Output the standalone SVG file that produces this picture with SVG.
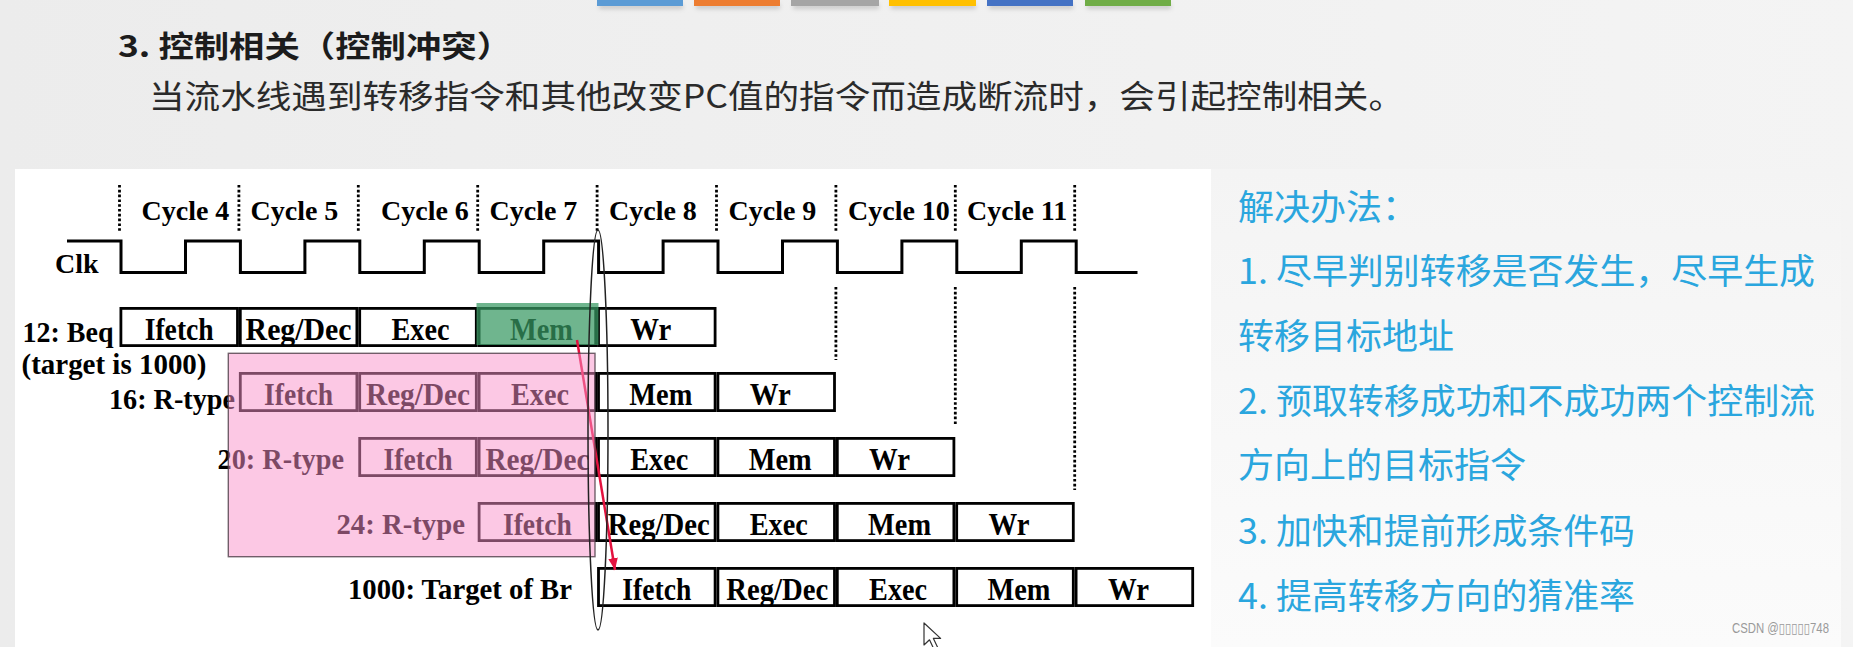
<svg xmlns="http://www.w3.org/2000/svg" width="1853" height="647" viewBox="0 0 1853 647">
<defs>
<linearGradient id="bg" x1="0" y1="0" x2="1" y2="0"><stop offset="0" stop-color="#ececec"/><stop offset="1" stop-color="#f4f4f4"/></linearGradient>
<linearGradient id="rp" x1="0" y1="0" x2="0" y2="1"><stop offset="0" stop-color="#f4f4f4"/><stop offset="1" stop-color="#fbfbfb"/></linearGradient>
<marker id="ah" markerWidth="12" markerHeight="12" refX="10" refY="5" orient="auto" markerUnits="userSpaceOnUse" viewBox="0 0 10 10"><path d="M0,1 L10,5 L0,9 Z" fill="#e3123f"/></marker>
<filter id="blur" x="-10%" y="-100%" width="120%" height="300%"><feGaussianBlur stdDeviation="2"/></filter>
<style>
.t{font-family:"Liberation Serif","Times New Roman",serif;font-weight:bold;font-size:28px;fill:#000}
.b{font-size:31px}
.l{font-size:30px}
.m{text-anchor:middle}
.e{text-anchor:end}
.box{fill:#fff;stroke:#000;stroke-width:2.8}
.dot{stroke:#000;stroke-width:2.8;stroke-dasharray:2.6 2.2;fill:none}
.cn{font-family:"Noto Sans CJK SC","Noto Sans",sans-serif}
.rt{font-size:35px;fill:#2aa6de}
</style>
</defs>

<!-- backgrounds -->
<rect x="0" y="0" width="1853" height="647" fill="url(#bg)"/>
<rect x="15" y="169" width="1196" height="478" fill="#ffffff"/>
<rect x="1211" y="169" width="630" height="478" fill="url(#rp)"/>

<!-- top colour bars -->
<g id="topbars">
<g fill="#9a9a9a" opacity="0.45" filter="url(#blur)">
<rect x="599" y="4" width="84" height="5"/><rect x="696" y="4" width="84" height="5"/><rect x="793" y="4" width="86" height="5"/>
<rect x="891" y="4" width="85" height="5"/><rect x="989" y="4" width="84" height="5"/><rect x="1087" y="4" width="84" height="5"/>
</g>
<rect x="597" y="0" width="86" height="6" fill="#5b9bd5"/>
<rect x="694" y="0" width="86" height="6" fill="#ed7d31"/>
<rect x="791" y="0" width="88" height="6" fill="#a5a5a5"/>
<rect x="889" y="0" width="87" height="6" fill="#ffc000"/>
<rect x="987" y="0" width="86" height="6" fill="#4472c4"/>
<rect x="1085" y="0" width="86" height="6" fill="#70ad47"/>
</g>

<g id="title">
<text class="cn" x="118" y="56.5" font-size="30" font-weight="bold" fill="#1c1c1c" textLength="394" lengthAdjust="spacingAndGlyphs">3. 控制相关（控制冲突）</text>
</g>
<g id="subtitle">
<text class="cn" x="149" y="108" font-size="32" fill="#2a2a2a" textLength="1255" lengthAdjust="spacingAndGlyphs">当流水线遇到转移指令和其他改变PC值的指令而造成断流时，会引起控制相关。</text>
</g>

<!-- clock -->
<g id="clock">
<text class="t" x="55" y="273">Clk</text>
<path d="M67,241 H121 V272.5 H185.5 V241 H240.4 V272.5 H304.9 V241 H359.8 V272.5 H424.3 V241 H479.2 V272.5 H543.7 V241 H598.6 V272.5 H663.1 V241 H718 V272.5 H782.5 V241 H837.4 V272.5 H901.9 V241 H956.8 V272.5 H1021.3 V241 H1076.2 V272.5 H1137.5" fill="none" stroke="#000" stroke-width="3"/>
</g>

<g id="cycles">
<path class="dot" d="M119.5,185 V232 M238.9,185 V232 M358.3,185 V232 M477.7,185 V232 M597.1,185 V232 M716.5,185 V232 M835.9,185 V232 M955.3,185 V232 M1074.7,185 V232"/>
<path class="dot" d="M835.9,287 V360 M955.3,287 V425 M1074.7,287 V490"/>
<text class="t" x="141.5" y="219.5">Cycle 4</text>
<text class="t" x="250.5" y="219.5">Cycle 5</text>
<text class="t" x="381" y="219.5">Cycle 6</text>
<text class="t" x="489.5" y="219.5">Cycle 7</text>
<text class="t" x="609" y="219.5">Cycle 8</text>
<text class="t" x="728.5" y="219.5">Cycle 9</text>
<text class="t" x="848" y="219.5">Cycle 10</text>
<text class="t" x="967" y="219.5">Cycle 11</text>
</g>

<!-- row 1 -->
<g id="row-12-beq">
<text class="t l e" x="113.5" y="342" textLength="91" lengthAdjust="spacingAndGlyphs">12: Beq</text>
<text class="t l" x="21.5" y="374" textLength="185" lengthAdjust="spacingAndGlyphs">(target is 1000)</text>
<rect class="box" x="120.9" y="308.4" width="116.6" height="37.2"/>
<rect class="box" x="240.3" y="308.4" width="116.6" height="37.2"/>
<rect class="box" x="359.7" y="308.4" width="116.6" height="37.2"/>
<rect class="box" x="479.1" y="308.4" width="116.6" height="37.2"/>
<rect class="box" x="598.5" y="308.4" width="116.6" height="37.2"/>
<text class="t b m" x="179.2" y="340" textLength="69" lengthAdjust="spacingAndGlyphs">Ifetch</text>
<text class="t b m" x="298.6" y="340" textLength="106" lengthAdjust="spacingAndGlyphs">Reg/Dec</text>
<text class="t b m" x="420.5" y="340" textLength="58" lengthAdjust="spacingAndGlyphs">Exec</text>
<text class="t b m" x="541.4" y="340" textLength="63" lengthAdjust="spacingAndGlyphs">Mem</text>
<text class="t b m" x="650.8" y="340" textLength="41" lengthAdjust="spacingAndGlyphs">Wr</text>
</g>

<!-- row 2 -->
<g id="row-16-rtype">
<text class="t l e" x="235" y="409" textLength="126" lengthAdjust="spacingAndGlyphs">16: R-type</text>
<rect class="box" x="240.3" y="373.4" width="116.6" height="37.2"/>
<rect class="box" x="359.7" y="373.4" width="116.6" height="37.2"/>
<rect class="box" x="479.1" y="373.4" width="116.6" height="37.2"/>
<rect class="box" x="598.5" y="373.4" width="116.6" height="37.2"/>
<rect class="box" x="717.9" y="373.4" width="116.6" height="37.2"/>
<text class="t b m" x="298.6" y="405" textLength="69" lengthAdjust="spacingAndGlyphs">Ifetch</text>
<text class="t b m" x="418" y="405" textLength="104" lengthAdjust="spacingAndGlyphs">Reg/Dec</text>
<text class="t b m" x="540" y="405" textLength="58" lengthAdjust="spacingAndGlyphs">Exec</text>
<text class="t b m" x="660.8" y="405" textLength="63" lengthAdjust="spacingAndGlyphs">Mem</text>
<text class="t b m" x="770.2" y="405" textLength="41" lengthAdjust="spacingAndGlyphs">Wr</text>
</g>

<!-- row 3 -->
<g id="row-20-rtype">
<text class="t l e" x="344" y="469" textLength="126.5" lengthAdjust="spacingAndGlyphs">20: R-type</text>
<rect class="box" x="359.7" y="438.4" width="116.6" height="37.2"/>
<rect class="box" x="479.1" y="438.4" width="116.6" height="37.2"/>
<rect class="box" x="598.5" y="438.4" width="116.6" height="37.2"/>
<rect class="box" x="717.9" y="438.4" width="116.6" height="37.2"/>
<rect class="box" x="837.3" y="438.4" width="116.6" height="37.2"/>
<text class="t b m" x="418" y="469.5" textLength="69" lengthAdjust="spacingAndGlyphs">Ifetch</text>
<text class="t b m" x="537.4" y="469.5" textLength="104" lengthAdjust="spacingAndGlyphs">Reg/Dec</text>
<text class="t b m" x="659.3" y="469.5" textLength="58" lengthAdjust="spacingAndGlyphs">Exec</text>
<text class="t b m" x="780.2" y="469.5" textLength="63" lengthAdjust="spacingAndGlyphs">Mem</text>
<text class="t b m" x="889.6" y="469.5" textLength="41" lengthAdjust="spacingAndGlyphs">Wr</text>
</g>

<!-- row 4 -->
<g id="row-24-rtype">
<text class="t l e" x="465" y="534" textLength="128.6" lengthAdjust="spacingAndGlyphs">24: R-type</text>
<rect class="box" x="479.1" y="503.4" width="116.6" height="37.2"/>
<rect class="box" x="598.5" y="503.4" width="116.6" height="37.2"/>
<rect class="box" x="717.9" y="503.4" width="116.6" height="37.2"/>
<rect class="box" x="837.3" y="503.4" width="116.6" height="37.2"/>
<rect class="box" x="956.7" y="503.4" width="116.6" height="37.2"/>
<text class="t b m" x="537.4" y="534.5" textLength="69" lengthAdjust="spacingAndGlyphs">Ifetch</text>
<text class="t b m" x="658.8" y="534.5" textLength="102" lengthAdjust="spacingAndGlyphs">Reg/Dec</text>
<text class="t b m" x="778.7" y="534.5" textLength="58" lengthAdjust="spacingAndGlyphs">Exec</text>
<text class="t b m" x="899.6" y="534.5" textLength="63" lengthAdjust="spacingAndGlyphs">Mem</text>
<text class="t b m" x="1009" y="534.5" textLength="41" lengthAdjust="spacingAndGlyphs">Wr</text>
</g>

<!-- row 5 -->
<g id="row-1000-target">
<text class="t l e" x="572" y="598.5" textLength="224" lengthAdjust="spacingAndGlyphs">1000: Target of Br</text>
<rect class="box" x="598.5" y="568.4" width="116.6" height="37.2"/>
<rect class="box" x="717.9" y="568.4" width="116.6" height="37.2"/>
<rect class="box" x="837.3" y="568.4" width="116.6" height="37.2"/>
<rect class="box" x="956.7" y="568.4" width="116.6" height="37.2"/>
<rect class="box" x="1076.1" y="568.4" width="116.6" height="37.2"/>
<text class="t b m" x="656.8" y="599.5" textLength="69" lengthAdjust="spacingAndGlyphs">Ifetch</text>
<text class="t b m" x="777.2" y="599.5" textLength="102" lengthAdjust="spacingAndGlyphs">Reg/Dec</text>
<text class="t b m" x="898.1" y="599.5" textLength="58" lengthAdjust="spacingAndGlyphs">Exec</text>
<text class="t b m" x="1019" y="599.5" textLength="63" lengthAdjust="spacingAndGlyphs">Mem</text>
<text class="t b m" x="1128.4" y="599.5" textLength="41" lengthAdjust="spacingAndGlyphs">Wr</text>
</g>

<!-- highlight of the branch Mem stage -->
<g id="mem-highlight">
<rect x="476.5" y="303" width="122" height="42" fill="rgb(55,152,99)" fill-opacity="0.72"/>
</g>

<!-- connectors -->
<g id="connectors">
<line x1="577" y1="340" x2="615" y2="570" stroke="#e3123f" stroke-width="2.5" marker-end="url(#ah)"/>
</g>

<!-- flushed instructions overlay -->
<g id="flushed">
<rect x="228.3" y="353.3" width="366.7" height="203.4" fill="rgb(250,146,202)" fill-opacity="0.5" stroke="#4e3e48" stroke-opacity="0.8" stroke-width="1.4"/>
</g>

<g id="ellipse">
<ellipse cx="598" cy="430" rx="10" ry="200" fill="none" stroke="#222" stroke-width="1.5"/>
</g>

<!-- right panel text -->
<g id="solutions" class="cn rt">
<text x="1238" y="220" textLength="180" lengthAdjust="spacingAndGlyphs">解决办法：</text>
<text x="1238" y="284" textLength="577" lengthAdjust="spacingAndGlyphs">1. 尽早判别转移是否发生，尽早生成</text>
<text x="1238" y="349" textLength="216" lengthAdjust="spacingAndGlyphs">转移目标地址</text>
<text x="1238" y="414" textLength="577" lengthAdjust="spacingAndGlyphs">2. 预取转移成功和不成功两个控制流</text>
<text x="1238" y="478" textLength="288" lengthAdjust="spacingAndGlyphs">方向上的目标指令</text>
<text x="1238" y="544" textLength="397" lengthAdjust="spacingAndGlyphs">3. 加快和提前形成条件码</text>
<text x="1238" y="609" textLength="397" lengthAdjust="spacingAndGlyphs">4. 提高转移方向的猜准率</text>
</g>

<!-- watermark -->
<g id="watermark">
<text x="1732" y="633" font-family="Liberation Sans, DejaVu Sans, sans-serif" font-size="14.5" fill="#9a9a9a" textLength="97" lengthAdjust="spacingAndGlyphs">CSDN @▯▯▯▯▯748</text>
</g>

<!-- mouse pointer -->
<g id="pointer">
<path d="M924,623 V645 L929.5,639.8 L933.8,649 L937.6,647.3 L933.4,638.4 H940.6 Z" fill="#ffffff" stroke="#333" stroke-width="1.2" stroke-linejoin="round"/>
</g>
</svg>
